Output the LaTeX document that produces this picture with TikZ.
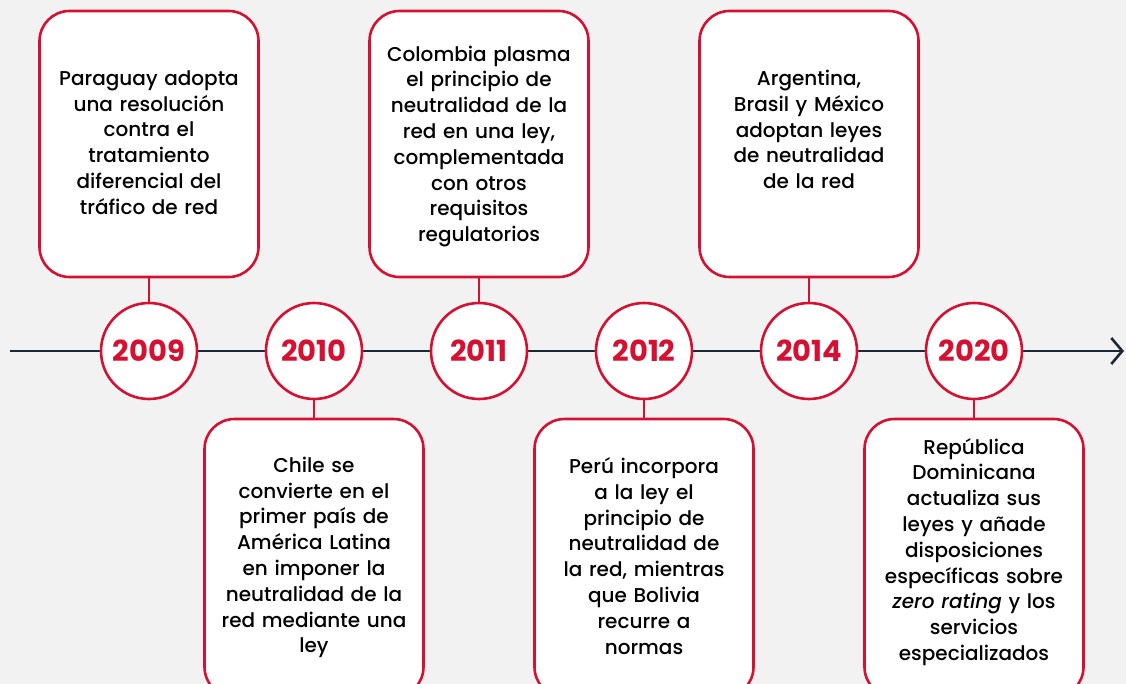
\documentclass[tikz,border=0pt]{standalone}
\usepackage{fontspec}
\setmainfont{Poppins}[UprightFont=* Medium, BoldFont=* Bold, ItalicFont=* Medium Italic]
\usepackage{xcolor}
\usetikzlibrary{arrows.meta,positioning}
\definecolor{tlred}{RGB}{213,16,48}
\definecolor{tlnavy}{RGB}{27,40,56}
\definecolor{tlbg}{RGB}{242,242,242}

\begin{document}
\begin{tikzpicture}[
        x=1pt, y=-1pt,
        evbox/.style={draw=tlred, line width=2.6pt, fill=white, rounded corners=30pt,
            minimum width=219pt, minimum height=266pt, inner sep=0pt},
        lowbox/.style={evbox, minimum height=278pt},
        yearc/.style={circle, draw=tlred, line width=2.6pt, fill=white, minimum size=96pt,
            inner sep=0pt, text=tlred, font=\fontsize{29}{31}\selectfont\bfseries},
        txt/.style={align=center, text width=214pt, font=\fontsize{20}{25.8}\selectfont},
        stem/.style={draw=tlred, line width=2.2pt},
    ]
    % Canvas
    \fill[tlbg] (0,0) rectangle (1126,684);
    \useasboundingbox (0,0) rectangle (1126,684);

    % Time axis with open arrow tip
    \coordinate (ax0) at (10,351);
    \coordinate (ax1) at (1124,351);
    \draw[tlnavy, line width=2.6pt, -{Straight Barb[length=11pt, width=26pt]}] (ax0) -- (ax1);

    % Year circles (165px apart)
    \foreach \i/\x/\yr in {1/149/2009, 2/314/2010, 3/479/2011, 4/644/2012, 5/809/2014, 6/974/2020} {
        \node[yearc] (c\i) at (\x,351) {\yr};
    }

    % Event boxes: odd years above, even years below (cut by the page edge)
    \node[evbox] (b1) at (149,144) {};
    \node[lowbox] (b2) at (314,558) {};
    \node[evbox] (b3) at (479,144) {};
    \node[lowbox] (b4) at (644,558) {};
    \node[evbox] (b5) at (809,144) {};
    \node[lowbox] (b6) at (974,558) {};

    % Stems from boxes to circles
    \draw[stem] (b1.south) -- (c1.north);
    \draw[stem] (c2.south) -- (b2.north);
    \draw[stem] (b3.south) -- (c3.north);
    \draw[stem] (c4.south) -- (b4.north);
    \draw[stem] (b5.south) -- (c5.north);
    \draw[stem] (c6.south) -- (b6.north);

    % Box texts
    \node[txt, yshift=1.5pt] (t1) at (b1.center) {Paraguay adopta\\una resolución\\contra el\\tratamiento\\diferencial del\\tráfico de red};
    \node[txt, yshift=0.5pt] (t2) at (b2.center) {Chile se\\convierte en el\\primer país de\\América Latina\\en imponer la\\neutralidad de la\\red mediante una\\ley};
    \node[txt, yshift=-2.5pt] (t3) at (b3.center) {Colombia plasma\\el principio de\\neutralidad de la\\red en una ley,\\complementada\\con otros\\requisitos\\regulatorios};
    \node[txt, yshift=2pt] (t4) at (b4.center) {Perú incorpora\\a la ley el\\principio de\\neutralidad de\\la red, mientras\\que Bolivia\\recurre a\\normas};
    \node[txt, yshift=14.5pt] (t5) at (b5.center) {Argentina,\\Brasil y México\\adoptan leyes\\de neutralidad\\de la red};
    \node[txt, yshift=6pt] (t6) at (b6.center) {República\\Dominicana\\actualiza sus\\leyes y añade\\disposiciones\\específicas sobre\\\textit{zero rating} y los\\servicios\\especializados};

\end{tikzpicture}
\end{document}
